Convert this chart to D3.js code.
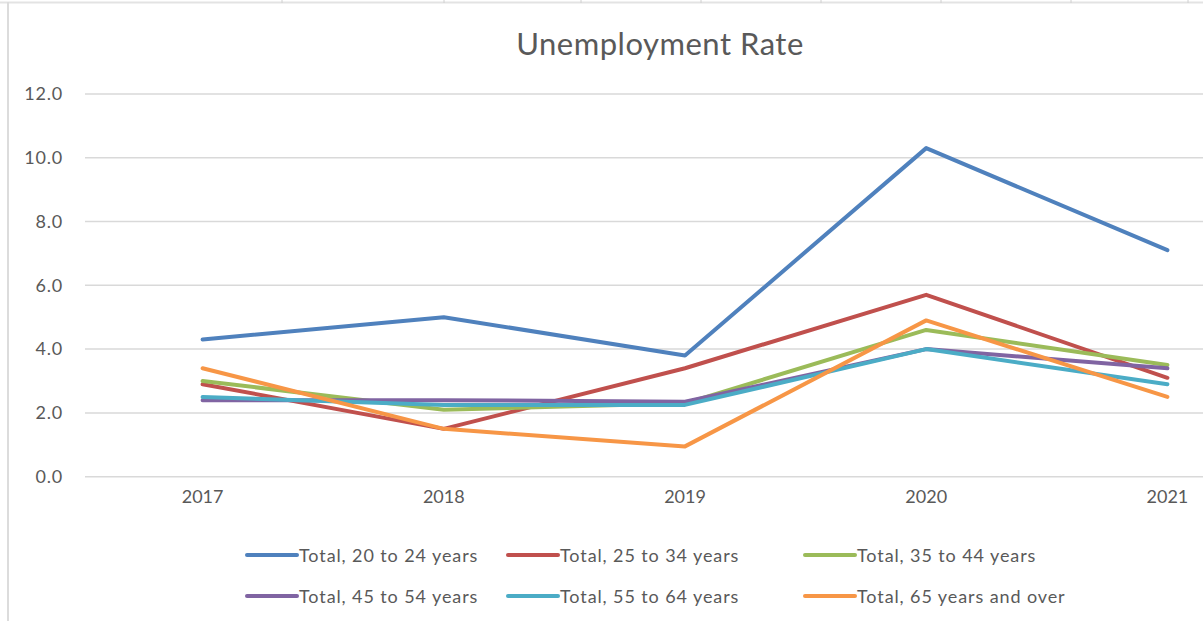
<!DOCTYPE html>
<html>
<head>
<meta charset="utf-8">
<script src="https://cdn.jsdelivr.net/npm/d3@7"></script>
<style>
  html, body { margin: 0; padding: 0; background: #fff; }
  svg { display: block; font-family: Lato, "Liberation Sans", sans-serif; }
</style>
</head>
<body>
<svg id="chart" width="1203" height="621"></svg>
<script>
// Unemployment rate by age group, 2017-2021
const years = ["2017", "2018", "2019", "2020", "2021"];
const seriesNames = [
  "Total, 20 to 24 years",
  "Total, 25 to 34 years",
  "Total, 35 to 44 years",
  "Total, 45 to 54 years",
  "Total, 55 to 64 years",
  "Total, 65 years and over"
];
const age20to24 = [4.3, 5.0, 3.8, 10.3, 7.1];
const age25to34 = [2.9, 1.5, 3.4, 5.7, 3.1];
const age35to44 = [3.0, 2.1, 2.3, 4.6, 3.5];
const age45to54 = [2.4, 2.4, 2.35, 4.0, 3.4];
const age55to64 = [2.5, 2.25, 2.25, 4.0, 2.9];
const age65plus = [3.4, 1.5, 0.95, 4.9, 2.5];
const yTicks = [0, 2, 4, 6, 8, 10, 12];
const colors = ["#4F81BD", "#C0504D", "#9BBB59", "#8064A2", "#4BACC6", "#F79646"];

const seriesValues = [age20to24, age25to34, age35to44, age45to54, age55to64, age65plus];
const series = seriesNames.map((name, i) => ({ name, color: colors[i], values: seriesValues[i] }));

const svg = d3.select("#chart");
const W = 1203, H = 621;
const textColor = "#595959";
const gridColor = "#d9d9d9";

svg.append("rect").attr("width", W).attr("height", H).attr("fill", "#fff");

// sheet edges around the chart object
svg.append("line").attr("x1", 0).attr("x2", W).attr("y1", 2.5).attr("y2", 2.5)
  .attr("stroke", "#e3e3e3").attr("stroke-width", 2);
[282, 444, 581, 701, 821, 941, 1071, 1188].forEach(x => {
  svg.append("line").attr("x1", x).attr("x2", x).attr("y1", 0).attr("y2", 3)
    .attr("stroke", "#d0d0d0").attr("stroke-width", 1);
});
svg.append("line").attr("x1", 8).attr("x2", 8).attr("y1", 2).attr("y2", H)
  .attr("stroke", "#dcdcdc").attr("stroke-width", 2);

// plot area: five category bands, the last one running past the right edge
const plotLeft = 82, step = 241.2;
const x = d3.scaleBand().domain(years).range([plotLeft, plotLeft + step * years.length]);
const y = d3.scaleLinear().domain([0, 12]).range([476.7, 93.9]);

// horizontal gridlines
svg.append("g").selectAll("line").data(yTicks).join("line")
  .attr("x1", 85).attr("x2", W)
  .attr("y1", d => y(d)).attr("y2", d => y(d))
  .attr("stroke", gridColor).attr("stroke-width", 1.5);

// value axis labels
const yAxis = d3.axisLeft(y).tickValues(yTicks).tickFormat(d3.format(".1f")).tickSize(0).tickPadding(0);
const gy = svg.append("g").attr("transform", "translate(63,0)").call(yAxis);
gy.select(".domain").remove();
gy.selectAll("text").attr("fill", textColor).attr("font-size", 18)
  .attr("letter-spacing", 0.8).attr("font-family", "Lato, sans-serif");

// category axis labels
const xAxis = d3.axisBottom(x).tickSize(0).tickPadding(0);
const gx = svg.append("g").attr("transform", "translate(0,490)").call(xAxis);
gx.select(".domain").remove();
gx.selectAll("text").attr("fill", textColor).attr("font-size", 18).attr("font-family", "Lato, sans-serif");

// series lines
const line = d3.line()
  .x((d, i) => x(years[i]) + x.bandwidth() / 2)
  .y(d => y(d));

svg.append("g").selectAll("path").data(series).join("path")
  .attr("d", d => line(d.values))
  .attr("fill", "none")
  .attr("stroke", d => d.color)
  .attr("stroke-width", 4)
  .attr("stroke-linecap", "round")
  .attr("stroke-linejoin", "round");

// title
svg.append("text")
  .attr("x", 660).attr("y", 55)
  .attr("text-anchor", "middle")
  .attr("fill", textColor)
  .attr("font-size", 31)
  .attr("letter-spacing", 0.5)
  .text("Unemployment Rate");

// legend: three columns, two rows
const legendCols = [247, 508, 805];
const legendRows = [555, 596];
const legend = svg.append("g").selectAll("g").data(series).join("g")
  .attr("transform", (d, i) => `translate(${legendCols[i % 3]},${legendRows[Math.floor(i / 3)]})`);
legend.append("line")
  .attr("x1", 0).attr("x2", 50).attr("y1", 0).attr("y2", 0)
  .attr("stroke", d => d.color).attr("stroke-width", 4).attr("stroke-linecap", "round");
legend.append("text")
  .attr("x", 52).attr("y", 6.5)
  .attr("fill", textColor).attr("font-size", 18)
  .attr("letter-spacing", 0.9)
  .text(d => d.name);
</script>
</body>
</html>
